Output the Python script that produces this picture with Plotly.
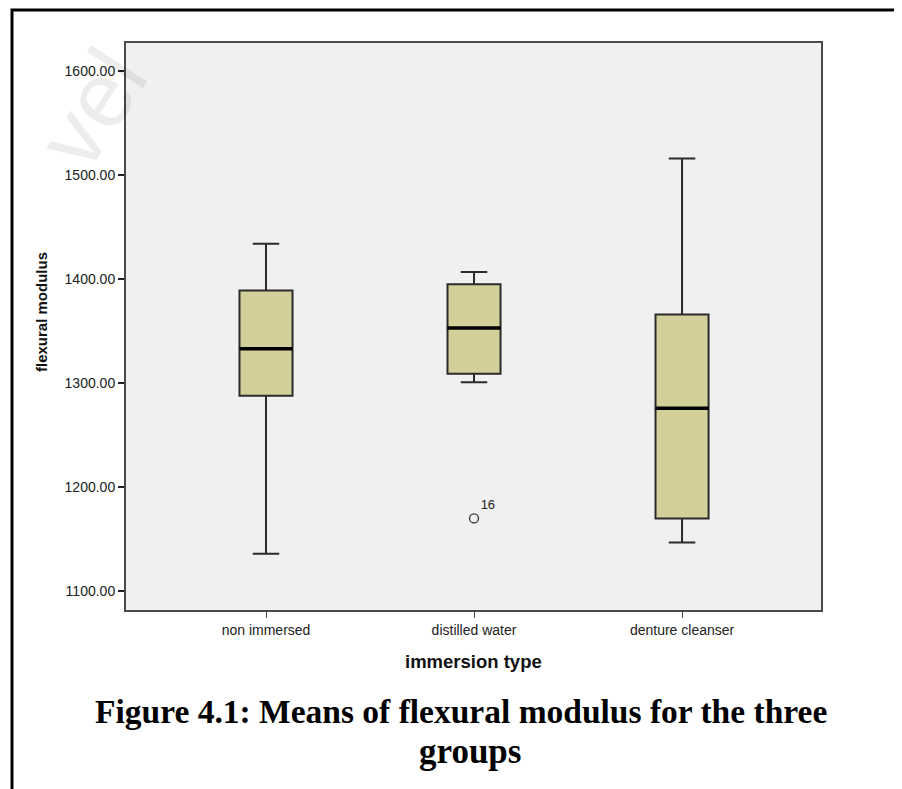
import plotly.graph_objects as go

# ---- data ----
categories = ["non immersed", "distilled water", "denture cleanser"]
lower_whisker = [1136, 1301, 1147]
q1_values = [1288, 1309, 1170]
median_values = [1333, 1353, 1276]
q3_values = [1389, 1395, 1366]
upper_whisker = [1434, 1407, 1516]
outlier_group = [1]
outlier_values = [1170]
outlier_labels = ["16"]
y_ticks = [1100, 1200, 1300, 1400, 1500, 1600]

W, H = 902, 789
OFF = 8  # page body margin
# plot area in page pixel coordinates
L, R, T, B = 126, 821, 43, 610
box_width = 0.255


def px(x):
    return (x - L) / (R - L)


def py(y):
    return 1 - (y - T) / (B - T)


xs = list(range(len(categories)))

fig = go.Figure()
fig.add_trace(go.Box(
    x=xs,
    q1=q1_values,
    median=median_values,
    q3=q3_values,
    lowerfence=lower_whisker,
    upperfence=upper_whisker,
    boxpoints=False,
    width=box_width,
    whiskerwidth=0.5,
    fillcolor="#D3CF98",
    line=dict(color="#2b2b2b", width=2),
    showlegend=False,
    hoverinfo="skip",
))

fig.add_trace(go.Scatter(
    x=outlier_group,
    y=outlier_values,
    mode="markers+text",
    text=outlier_labels,
    textposition="top right",
    textfont=dict(family="Liberation Sans, Arial, sans-serif", size=13, color="#222"),
    marker=dict(symbol="circle-open", size=9, color="#333", line=dict(width=1.3)),
    showlegend=False,
    hoverinfo="skip",
))

shapes = []
for i, m in zip(xs, median_values):
    shapes.append(dict(type="line", xref="x", yref="y",
                       x0=i - box_width / 2, x1=i + box_width / 2, y0=m, y1=m,
                       line=dict(color="black", width=3.5)))
# outer figure frame
shapes.append(dict(type="rect", xref="paper", yref="paper",
                   x0=px(12), x1=px(930), y0=py(820), y1=py(10),
                   line=dict(color="black", width=3), layer="above"))

sans = "Liberation Sans, Arial, sans-serif"
serif = "Liberation Serif, Times New Roman, serif"
annotations = [
    dict(text="vel", xref="paper", yref="paper", x=px(92), y=py(108),
         xanchor="center", yanchor="middle",
         showarrow=False, textangle=-57,
         font=dict(family=sans, size=92, color="rgba(0,0,0,0.07)")),
    dict(text="<b>flexural modulus</b>", xref="paper", yref="paper",
         x=px(42), y=py(312), xanchor="center", yanchor="middle",
         showarrow=False, textangle=-90,
         font=dict(family=sans, size=15, color="#111")),
    dict(text="<b>immersion type</b>", xref="paper", yref="paper",
         x=px(474), y=py(661), xanchor="center", yanchor="middle", showarrow=False,
         font=dict(family=sans, size=18.5, color="#111")),
    dict(text="<b>Figure 4.1: Means of flexural modulus for the three</b>", xref="paper", yref="paper",
         x=px(460.5), y=py(711), xanchor="center", yanchor="middle", showarrow=False,
         font=dict(family=serif, size=33.5, color="black")),
    dict(text="<b>groups</b>", xref="paper", yref="paper",
         x=px(470), y=py(751), xanchor="center", yanchor="middle", showarrow=False,
         font=dict(family=serif, size=35, color="black")),
]

fig.update_layout(
    width=W, height=H,
    margin=dict(l=L - OFF, r=W - (R - OFF), t=T - OFF, b=H - (B - OFF), pad=0),
    paper_bgcolor="white",
    plot_bgcolor="#F0F0F0",
    shapes=shapes,
    annotations=annotations,
    showlegend=False,
    font=dict(family=sans, color="#222"),
)

fig.update_xaxes(
    range=[-0.673, 2.668],
    tickmode="array", tickvals=xs, ticktext=categories,
    ticks="outside", ticklen=6, tickwidth=1.2, tickcolor="#444",
    tickfont=dict(size=14, color="#222"),
    showgrid=False, zeroline=False,
    showline=True, mirror=True, linecolor="#4a4a4a", linewidth=2,
)
fig.update_yaxes(
    range=[1082, 1627],
    tickmode="array", tickvals=y_ticks, tickformat=".2f",
    ticks="outside", ticklen=6, tickwidth=1.5, tickcolor="#222",
    tickfont=dict(size=14, color="#222"),
    showgrid=False, zeroline=False,
    showline=True, mirror=True, linecolor="#4a4a4a", linewidth=2,
)

fig.write_html("out.html")
